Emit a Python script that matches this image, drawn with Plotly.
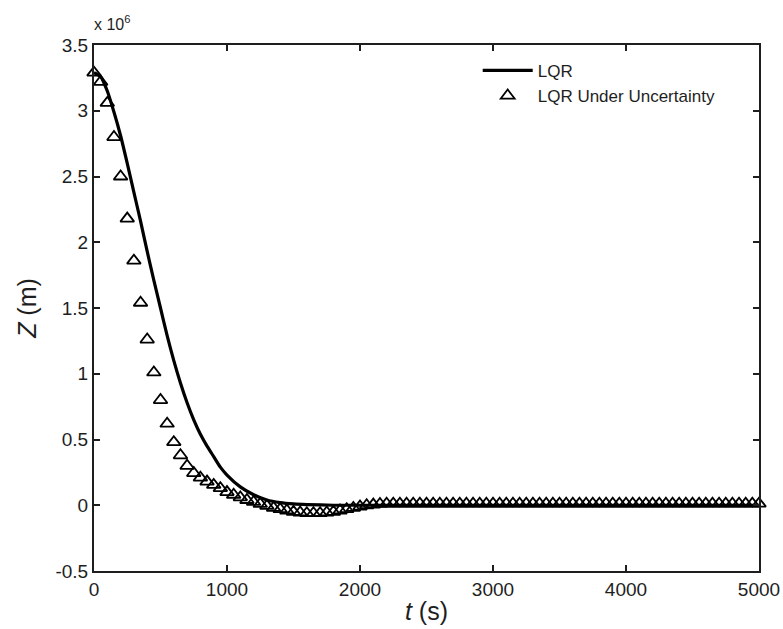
import plotly.graph_objects as go

# LQR (solid line)
t_lqr = [0, 50, 100, 150, 200, 250, 300, 350, 400, 450, 500, 550, 600, 650, 700,
         750, 800, 850, 900, 950, 1000, 1100, 1200, 1300, 1400, 1500, 1600, 1800,
         2000, 2500, 3000, 3500, 4000, 4500, 5000]
z_lqr = [3.29, 3.26, 3.15, 2.99, 2.81, 2.60, 2.38, 2.16, 1.93, 1.71, 1.50, 1.29,
         1.10, 0.93, 0.78, 0.65, 0.54, 0.45, 0.37, 0.29, 0.23, 0.14, 0.08, 0.04,
         0.02, 0.01, 0.005, 0.0, 0.0, 0.0, 0.0, 0.0, 0.0, 0.0, 0.0]

# LQR under uncertainty (triangles, every 50 s)
t_unc = list(range(0, 5001, 50))
z_unc_head = [3.29, 3.22, 3.06, 2.80, 2.50, 2.18, 1.86, 1.54, 1.26, 1.01, 0.80,
              0.62, 0.48, 0.38, 0.30, 0.245, 0.21, 0.18, 0.155, 0.13, 0.10, 0.08,
              0.06, 0.04, 0.025, 0.01, -0.005, -0.02, -0.03, -0.04, -0.05, -0.055,
              -0.06, -0.06, -0.06, -0.055, -0.05, -0.04, -0.03, -0.02, -0.01, 0.0,
              0.005, 0.01]
z_unc = z_unc_head + [0.012] * (len(t_unc) - len(z_unc_head))

scale = 1e6
y_lqr = [v * scale for v in z_lqr]
y_unc = [v * scale for v in z_unc]

x_ticks = [0, 1000, 2000, 3000, 4000, 5000]
y_tick_vals = [-0.5, 0, 0.5, 1, 1.5, 2, 2.5, 3, 3.5]
y_tick_text = ["-0.5", "0", "0.5", "1", "1.5", "2", "2.5", "3", "3.5"]

FONT = "Liberation Sans, Arial, sans-serif"
INK = "#1e1e1e"

fig = go.Figure()
fig.add_trace(go.Scatter(
    x=t_lqr, y=y_lqr, mode="lines", name="LQR",
    line=dict(color="black", width=3.2, shape="spline", smoothing=0.6),
))
fig.add_trace(go.Scatter(
    x=t_unc, y=y_unc, mode="markers", name="LQR Under Uncertainty",
    marker=dict(symbol="triangle-up-open", size=12, color="black",
                line=dict(width=1.8, color="black")),
    cliponaxis=False,
))

axis_common = dict(
    showline=True, linecolor=INK, linewidth=2, mirror="ticks",
    ticks="inside", ticklen=6, tickwidth=1.5, tickcolor=INK,
    showgrid=False, zeroline=False, automargin=False,
    ticklabeloverflow="allow",
    tickfont=dict(family=FONT, size=19, color=INK),
)

fig.update_layout(
    width=783, height=629,
    margin=dict(l=94, r=24, t=45, b=58),
    paper_bgcolor="white", plot_bgcolor="white",
    font=dict(family=FONT, color=INK),
    showlegend=True,
    legend=dict(
        x=0.577, y=0.985, xanchor="left", yanchor="top",
        bgcolor="white", borderwidth=0,
        font=dict(family=FONT, size=17, color=INK),
        itemwidth=50, tracegroupgap=0,
    ),
    xaxis=dict(
        range=[0, 5000], tickvals=x_ticks,
        title=dict(text="<i>t</i> (s)", font=dict(family=FONT, size=25, color=INK),
                   standoff=4),
        **axis_common,
    ),
    yaxis=dict(
        range=[-0.5 * scale, 3.5 * scale],
        tickvals=[v * scale for v in y_tick_vals], ticktext=y_tick_text,
        title=dict(text="<i>Z</i> (m)", font=dict(family=FONT, size=25, color=INK),
                   standoff=12),
        **axis_common,
    ),
    annotations=[dict(
        text="x 10<sup>6</sup>", xref="paper", yref="paper",
        x=0.0, y=1.0, xanchor="left", yanchor="bottom", yshift=10, xshift=-2,
        showarrow=False, font=dict(family=FONT, size=16, color=INK),
    )],
)

# remove the default 8 px page margin so the figure fills the window exactly
fig.write_html("out.html", config={"displayModeBar": False},
               post_script="document.body.style.margin='0';")
